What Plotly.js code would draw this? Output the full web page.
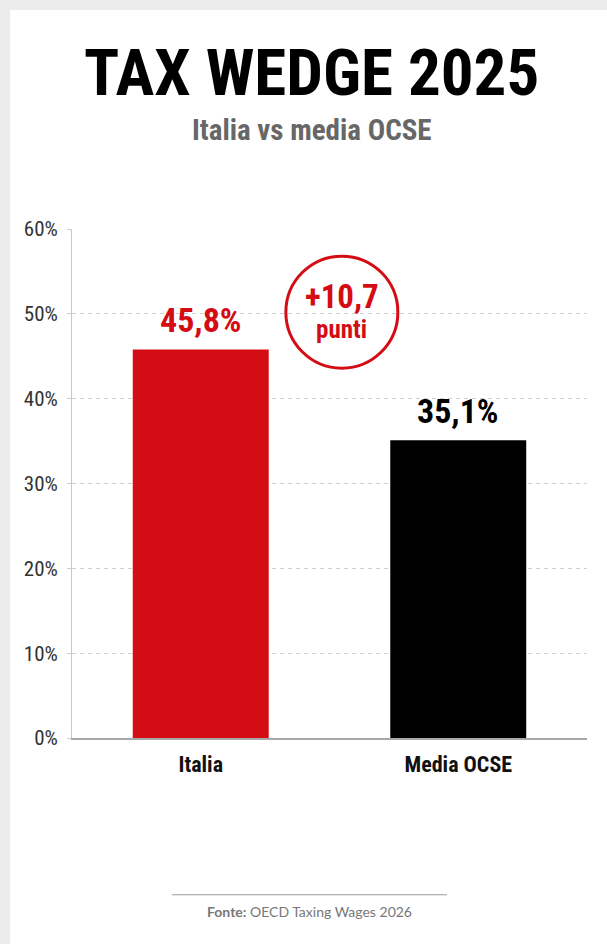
<!DOCTYPE html>
<html>
<head>
<meta charset="utf-8">
<script src="https://cdn.plot.ly/plotly-3.0.1.min.js"></script>
<style>
  html, body { margin: 0; padding: 0; background: #ececec; width: 607px; height: 944px; overflow: hidden; }
  #chart { position: absolute; left: 10px; top: 10px; width: 597px; height: 934px; background: #ffffff; }
</style>
</head>
<body>
<div id="chart"></div>
<script>
// ---- data ----
const categories = ["Italia", "Media OCSE"];
const values = [45.8, 35.1];
const valueLabels = ["45,8%", "35,1%"];
const barColors = ["#d40c13", "#000000"];
const yTickValues = [0, 10, 20, 30, 40, 50, 60];
const titleText = "TAX WEDGE 2025";
const subtitleText = "Italia vs media OCSE";
const sourceText = "<b>Fonte:</b> OECD Taxing Wages 2026";

const diff = values[0] - values[1];
const diffText = "+" + diff.toFixed(1).replace(".", ",");

const COND = "'Roboto Condensed', 'DejaVu Sans Condensed', sans-serif";
const RED = "#d40c13";

const trace = {
  type: "bar",
  x: categories,
  y: values,
  marker: { color: barColors, line: { width: 0 } },
  width: 0.528,
  hoverinfo: "skip"
};

const annotations = [
  { xref: "paper", yref: "paper", x: 0.466, y: 1.306, text: titleText, showarrow: false,
    font: { family: COND, size: 65, weight: 700, color: "#000" }, xanchor: "center", yanchor: "middle" },
  { xref: "paper", yref: "paper", x: 0.466, y: 1.194, text: subtitleText, showarrow: false,
    font: { family: COND, size: 29, weight: 700, color: "#676767" }, xanchor: "center", yanchor: "middle" },
  { xref: "paper", yref: "paper", x: 0.462, y: -0.341, text: sourceText, showarrow: false,
    font: { family: "Lato, 'Open Sans', sans-serif", size: 14, color: "#777" }, xanchor: "center", yanchor: "middle" },
  { xref: "paper", yref: "y", x: 0.524, y: 50.2, text: diffText, showarrow: false,
    yshift: 16, font: { family: COND, size: 33, weight: 700, color: RED }, xanchor: "center", yanchor: "middle" },
  { xref: "paper", yref: "y", x: 0.524, y: 50.2, text: "punti", showarrow: false,
    yshift: -17, font: { family: COND, size: 25, weight: 700, color: RED }, xanchor: "center", yanchor: "middle" }
];
categories.forEach((c, i) => {
  annotations.push({
    xref: "x", yref: "y", x: c, y: values[i], text: valueLabels[i], showarrow: false,
    yanchor: "bottom", yshift: 7, font: { family: COND, size: 34, weight: 700, color: barColors[i] }
  });
});

const layout = {
  width: 597, height: 934,
  margin: { l: 62, r: 20, t: 219, b: 206 },
  paper_bgcolor: "#ffffff",
  plot_bgcolor: "#ffffff",
  showlegend: false,
  xaxis: {
    type: "category",
    range: [-0.5, 1.5],
    showgrid: false,
    showline: true, linecolor: "#a8a8a8", linewidth: 1.5,
    ticks: "",
    ticklabelstandoff: 6,
    tickfont: { family: COND, size: 22, weight: 700, color: "#111" },
    fixedrange: true
  },
  yaxis: {
    range: [0, 60],
    tickvals: yTickValues,
    ticktext: yTickValues.map(v => v + "%"),
    showgrid: true, gridcolor: "#d0d0d0", gridwidth: 1, griddash: "4px,4px",
    showline: true, linecolor: "#c8c8c8", linewidth: 1,
    zeroline: false,
    ticks: "outside", ticklen: 4, tickcolor: "#cccccc", tickwidth: 1,
    ticklabelstandoff: 5,
    tickfont: { family: COND, size: 21, color: "#333" },
    fixedrange: true
  },
  shapes: [
    { type: "circle", xref: "paper", yref: "y", xsizemode: "pixel", ysizemode: "pixel",
      xanchor: 0.524, yanchor: 50.2, x0: -56, x1: 56, y0: -56, y1: 56,
      line: { color: RED, width: 3 }, fillcolor: "rgba(255,255,255,0)" },
    { type: "line", xref: "paper", yref: "paper", x0: 0.194, x1: 0.728, y0: -0.308, y1: -0.308,
      line: { color: "#9a9a9a", width: 1.2 } }
  ],
  annotations: annotations
};

Plotly.newPlot("chart", [trace], layout, { displayModeBar: false, staticPlot: true });
</script>
</body>
</html>
